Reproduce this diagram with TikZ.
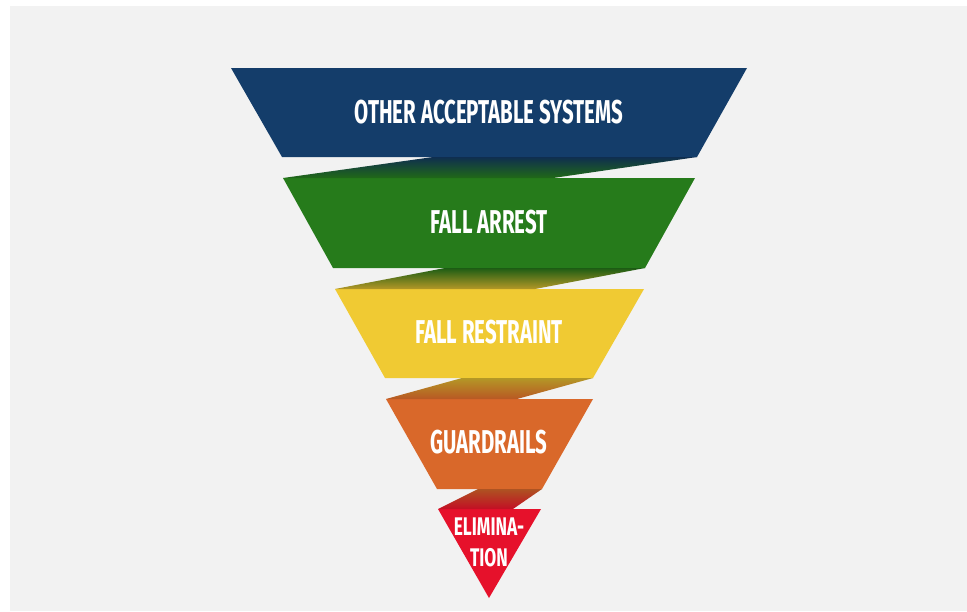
\documentclass[tikz,border=0pt]{standalone}
\usepackage{fontspec}
\newfontfamily\bebas{Fira Sans}[FakeStretch=0.62]
\newfontfamily\bebassmall{Fira Sans}[FakeStretch=0.68]
\begin{document}
\begin{tikzpicture}[x=1pt,y=-1pt,
  lbl/.style={text=white,font=\bebas\bfseries\fontsize{33}{33}\selectfont,inner sep=0pt,anchor=center},
  lblsmall/.style={text=white,font=\bebassmall\bfseries\fontsize{25.5}{32}\selectfont,inner sep=0pt,anchor=center,align=center}]
\definecolor{bgc}{HTML}{F2F2F2}
\definecolor{c1}{HTML}{143D6A}
\definecolor{c2}{HTML}{267B1B}
\definecolor{c3}{HTML}{F0CA33}
\definecolor{c4}{HTML}{D9682A}
\definecolor{c5}{HTML}{E6112B}
\useasboundingbox (0,0) rectangle (967,611);
\fill[white] (0,0) rectangle (967,611);
\fill[bgc] (10,6) rectangle (967,611);
% levels
\fill[c1] (231,68) -- (747,68) -- (697,157) -- (282,157) -- cycle;
\fill[c2] (283,178) -- (695,178) -- (645,268) -- (333,268) -- cycle;
\fill[c3] (335,289) -- (644,289) -- (593,378) -- (385,378) -- cycle;
\fill[c4] (386,399) -- (593,399) -- (542,489) -- (437,489) -- cycle;
\fill[c5] (438,509) -- (541,509) -- (489,598) -- cycle;
% ribbons
\shade[top color=c1!75!black, bottom color=c2!85!black] (283,178) -- (433,157) -- (697,157) -- (553,178) -- cycle;
\shade[top color=c2!75!black, bottom color=c3!75!black] (335,289) -- (445,268) -- (645,268) -- (535,289) -- cycle;
\shade[top color=c3!75!black, bottom color=c4!85!black] (386,399) -- (462,378) -- (593,378) -- (517,399) -- cycle;
\shade[top color=c4!80!black, bottom color=c5!85!black] (438,509) -- (478,489) -- (542,489) -- (513,509) -- cycle;
% labels
\node[lbl] (t1) at (489,112) {OTHER ACCEPTABLE SYSTEMS};
\node[lbl] (t2) at (489,222) {FALL ARREST};
\node[lbl] (t3) at (489,332) {FALL RESTRAINT};
\node[lbl] (t4) at (489,442) {GUARDRAILS};
\node[lblsmall] (t5) at (489,527) {ELIMINA-};
\node[lblsmall] (t6) at (489,558) {TION};
\end{tikzpicture}
\end{document}
